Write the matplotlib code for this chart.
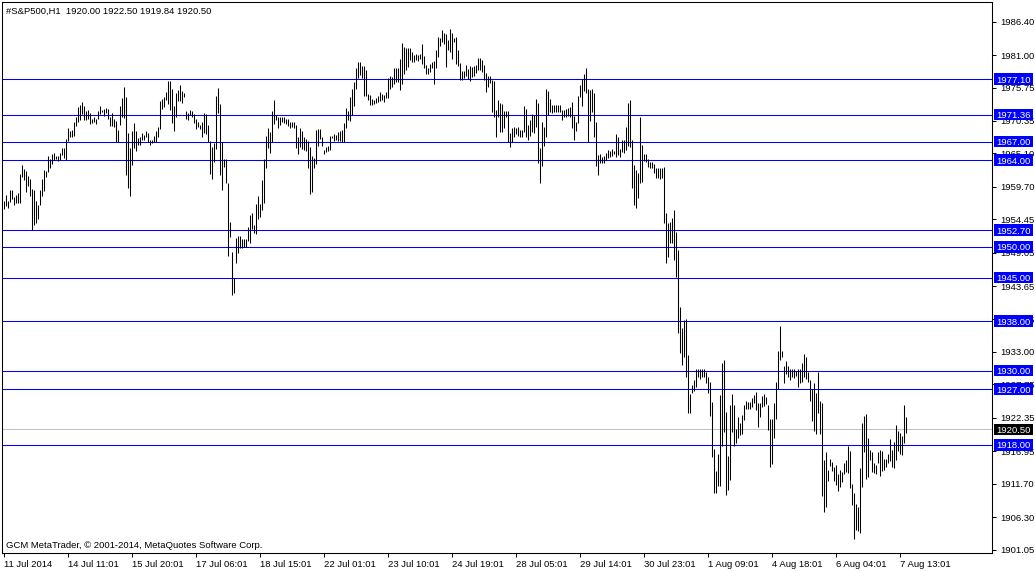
import matplotlib
matplotlib.use('Agg')
import matplotlib.pyplot as plt
from matplotlib.patches import Rectangle
from matplotlib.transforms import blended_transform_factory

# ---------------- data (H1 bars: high / low) ----------------
highs = [
    1957.46, 1958.32, 1957.46, 1959.19, 1959.19, 1958.00, 1958.32, 1958.76, 1961.77, 1963.23,
    1962.53, 1962.26, 1961.45, 1961.02, 1959.35, 1959.19, 1957.46, 1956.76, 1959.19, 1961.02,
    1962.42, 1962.31, 1964.68, 1964.14, 1965.01, 1965.11, 1964.68, 1964.68, 1965.22, 1965.92,
    1965.92, 1967.38, 1969.16, 1968.78, 1968.89, 1970.18, 1970.93, 1972.66, 1972.93, 1973.41,
    1972.77, 1972.01, 1972.12, 1971.58, 1970.61, 1971.04, 1970.72, 1971.90, 1972.77, 1972.12,
    1972.23, 1972.44, 1972.23, 1971.04, 1971.58, 1970.72, 1970.29, 1968.89, 1972.77, 1974.06,
    1975.89, 1974.28, 1968.46, 1966.03, 1968.78, 1969.96, 1968.78, 1967.54, 1967.81, 1968.46,
    1968.02, 1968.72, 1968.46, 1967.27, 1967.27, 1967.92, 1968.72, 1969.43, 1973.63, 1973.90,
    1974.28, 1975.03, 1976.86, 1976.86, 1975.57, 1972.77, 1974.81, 1975.35, 1976.16, 1975.14,
    1974.92, 1971.90, 1971.58, 1972.12, 1971.90, 1971.47, 1970.72, 1970.18, 1969.75, 1970.18,
    1971.58, 1971.47, 1969.75, 1967.16, 1966.19, 1966.73, 1974.38, 1975.68, 1973.09, 1966.95,
    1964.14, 1964.14, 1960.26, 1954.07,
    1949.21, 1944.90, 1951.37, 1951.80, 1951.80, 1951.26, 1951.26, 1951.26, 1953.20, 1955.14,
    1955.41, 1953.53, 1956.92, 1958.27, 1956.92, 1960.80, 1964.20, 1967.97, 1969.15, 1968.51,
    1971.96, 1973.68, 1971.31, 1970.99, 1970.99, 1970.99, 1970.99, 1970.66, 1970.66, 1970.12,
    1970.23, 1970.12, 1969.69, 1967.75, 1969.15, 1968.72, 1967.75, 1967.43, 1967.11, 1966.14,
    1964.63, 1964.30, 1968.83, 1969.05, 1969.05, 1967.75, 1965.71, 1966.14, 1966.35, 1967.86,
    1967.97, 1968.18, 1968.08, 1968.51, 1968.72, 1968.83, 1970.02, 1972.39, 1971.96, 1974.22,
    1975.51, 1976.59, 1978.96, 1979.93, 1979.93, 1979.18, 1979.18, 1978.64, 1974.76, 1974.54,
    1973.90, 1973.79, 1974.11, 1974.44, 1975.08, 1974.76, 1974.54, 1975.08, 1977.35, 1977.56,
    1977.51, 1978.96, 1978.85, 1978.85, 1980.36, 1982.90, 1982.30, 1982.09, 1982.09, 1982.09,
    1981.55, 1981.01, 1981.12, 1981.01, 1981.12, 1982.79, 1980.90, 1979.39, 1978.96, 1979.50,
    1979.82, 1980.04, 1981.76, 1983.92, 1983.81, 1985.11, 1984.57, 1984.35, 1983.49, 1985.21,
    1984.57, 1983.81, 1983.92,
    1981.82, 1979.72, 1978.37, 1978.37, 1979.44, 1978.69, 1979.23, 1979.12, 1979.23, 1979.39,
    1980.52, 1980.52, 1980.20, 1979.39, 1978.05, 1977.61, 1977.61, 1976.97, 1976.85, 1972.12,
    1973.73, 1973.30, 1973.09, 1972.01, 1972.01, 1972.01, 1968.45, 1969.16, 1969.42, 1969.16,
    1969.42, 1968.88, 1968.88, 1972.76, 1972.23, 1969.69, 1970.50, 1971.47, 1971.31, 1973.85,
    1973.20, 1965.93, 1970.18, 1969.42, 1975.46, 1975.24, 1973.85, 1972.93, 1972.93, 1972.93,
    1972.93, 1972.93, 1972.12, 1972.12, 1972.23, 1972.39, 1972.65, 1973.41, 1971.15, 1970.23,
    1974.38, 1976.16, 1977.08, 1977.94, 1978.86, 1975.46, 1975.35, 1975.46, 1974.82, 1970.23,
    1964.84, 1965.00, 1964.57, 1964.68, 1965.11, 1965.65, 1965.54, 1965.76, 1965.54, 1968.24,
    1967.70, 1965.76, 1967.27, 1967.27, 1969.42, 1973.30, 1973.73, 1967.27, 1963.23, 1962.42,
    1961.88, 1970.94, 1966.46, 1965.00, 1965.00, 1964.25, 1963.76, 1963.76, 1963.39, 1962.69,
    1962.69, 1962.69, 1962.69, 1962.85, 1955.51, 1953.90, 1954.06, 1954.61, 1955.95,
    1952.39, 1949.48, 1940.32, 1936.82, 1938.17, 1938.27, 1932.51, 1926.20, 1927.66, 1928.47,
    1930.19, 1930.19, 1930.19, 1930.19, 1930.19, 1929.81, 1928.90, 1928.14, 1924.91, 1917.26,
    1913.81, 1916.50, 1926.04, 1931.16, 1931.70, 1923.29, 1916.18, 1924.42, 1926.20, 1924.42,
    1920.49, 1922.43, 1921.46, 1922.75, 1924.42, 1925.13, 1924.91, 1924.91, 1925.50, 1926.04,
    1926.53, 1924.80, 1924.80, 1925.88, 1926.20, 1925.77, 1924.42, 1922.11, 1922.11, 1924.69,
    1928.20, 1933.21, 1937.20, 1933.21, 1930.73, 1931.59, 1930.73, 1930.19, 1930.30, 1930.19,
    1929.97, 1930.30, 1930.19, 1931.27, 1932.67, 1932.24, 1929.81, 1928.47, 1926.96, 1927.93,
    1926.42, 1929.81, 1925.13, 1924.80, 1915.53, 1916.88, 1913.92, 1915.64, 1915.26, 1914.35,
    1914.72, 1913.27, 1913.92, 1913.59, 1914.99, 1915.53, 1917.80, 1917.04, 1911.65, 1910.25,
    1908.42, 1907.99, 1914.24, 1921.46, 1922.65, 1922.97, 1919.04, 1917.15, 1916.88, 1914.99,
    1914.72, 1916.88, 1917.15, 1917.04, 1915.64, 1915.64, 1916.50, 1918.87, 1917.15, 1918.50,
    1921.19, 1920.28, 1919.95, 1919.41, 1924.42, 1922.50,
]

lows = [
    1956.17, 1956.60, 1956.33, 1957.25, 1957.68, 1956.82, 1957.14, 1957.14, 1957.14, 1961.34,
    1960.80, 1958.92, 1959.83, 1958.22, 1952.67, 1953.53, 1953.91, 1954.55, 1956.76, 1958.22,
    1959.08, 1961.34, 1962.10, 1962.80, 1963.34, 1964.04, 1964.25, 1963.82, 1964.04, 1964.79,
    1964.36, 1964.04, 1967.16, 1967.70, 1967.70, 1967.92, 1969.53, 1970.18, 1970.50, 1971.47,
    1970.50, 1970.50, 1970.61, 1969.80, 1969.96, 1970.18, 1969.86, 1970.61, 1971.47, 1971.80,
    1971.15, 1971.58, 1970.61, 1969.53, 1969.53, 1969.32, 1966.95, 1966.95, 1969.64, 1971.04,
    1970.83, 1961.61, 1959.56, 1958.27, 1963.28, 1966.03, 1965.44, 1966.52, 1966.52, 1967.27,
    1967.27, 1967.70, 1966.95, 1966.52, 1966.73, 1966.95, 1966.95, 1967.70, 1969.10, 1972.34,
    1972.66, 1973.74, 1973.09, 1972.12, 1969.96, 1968.78, 1971.04, 1973.63, 1973.63, 1973.20,
    1974.28, 1970.61, 1970.50, 1971.37, 1971.04, 1969.96, 1969.10, 1969.32, 1968.99, 1967.81,
    1968.35, 1968.24, 1966.95, 1961.72, 1961.02, 1963.77, 1965.87, 1971.58, 1961.67, 1959.19,
    1962.85, 1960.26, 1948.57, 1951.64,
    1942.21, 1942.48, 1947.33, 1949.05, 1949.86, 1949.86, 1949.97, 1949.97, 1950.94, 1950.67,
    1952.88, 1952.18, 1952.12, 1954.44, 1954.87, 1955.90, 1957.14, 1962.80, 1966.03, 1965.11,
    1967.00, 1969.80, 1970.50, 1969.26, 1969.69, 1970.23, 1969.96, 1969.85, 1969.59, 1969.15,
    1969.42, 1969.15, 1966.03, 1965.06, 1966.14, 1965.81, 1965.60, 1965.49, 1962.80, 1958.59,
    1958.91, 1962.69, 1963.33, 1966.35, 1967.43, 1966.35, 1964.95, 1965.27, 1965.49, 1965.60,
    1967.54, 1967.11, 1967.21, 1967.11, 1967.11, 1967.00, 1967.00, 1969.15, 1970.45, 1970.34,
    1971.31, 1972.82, 1975.51, 1977.24, 1977.78, 1977.35, 1974.44, 1974.33, 1973.73, 1972.93,
    1972.93, 1973.03, 1973.25, 1973.36, 1973.57, 1973.79, 1973.36, 1974.11, 1974.11, 1975.51,
    1975.84, 1976.38, 1976.70, 1976.70, 1975.41, 1976.27, 1977.88, 1978.53, 1979.07, 1980.15,
    1979.93, 1979.82, 1980.15, 1980.04, 1980.36, 1979.61, 1978.85, 1977.99, 1977.99, 1978.21,
    1978.96, 1976.38, 1978.85, 1980.69, 1982.52, 1983.17, 1982.84, 1979.07, 1981.87, 1981.55,
    1980.36, 1983.17, 1979.61,
    1979.23, 1976.97, 1976.97, 1977.24, 1977.61, 1977.08, 1976.85, 1977.50, 1977.61, 1978.05,
    1978.58, 1978.58, 1978.26, 1976.97, 1975.08, 1975.88, 1976.53, 1971.84, 1971.03, 1967.70,
    1971.03, 1968.61, 1968.61, 1969.16, 1971.03, 1966.99, 1966.09, 1966.99, 1967.80, 1968.24,
    1967.91, 1967.80, 1967.70, 1968.61, 1967.70, 1967.27, 1967.91, 1968.61, 1968.45, 1969.42,
    1963.50, 1960.37, 1963.06, 1966.30, 1967.70, 1971.26, 1971.79, 1971.58, 1971.84, 1971.84,
    1971.84, 1971.84, 1970.50, 1971.03, 1970.94, 1971.15, 1970.94, 1969.16, 1967.27, 1968.77,
    1969.97, 1974.17, 1972.76, 1975.24, 1974.82, 1966.99, 1970.39, 1971.84, 1967.80, 1963.06,
    1961.61, 1963.60, 1963.60, 1963.60, 1964.03, 1964.31, 1964.57, 1964.68, 1965.00, 1964.57,
    1964.84, 1964.47, 1965.38, 1965.21, 1965.65, 1966.30, 1966.19, 1959.46, 1956.76, 1956.22,
    1957.84, 1960.37, 1960.53, 1963.92, 1963.76, 1962.96, 1962.69, 1962.69, 1961.88, 1961.08,
    1961.08, 1961.00, 1961.08, 1953.90, 1947.33, 1948.40, 1950.67, 1950.67, 1947.87,
    1945.12, 1936.07, 1932.89, 1930.89, 1932.13, 1928.90, 1923.19, 1923.19, 1926.31, 1926.74,
    1927.39, 1928.90, 1928.57, 1928.90, 1929.00, 1927.93, 1926.42, 1922.65, 1915.96, 1910.14,
    1910.14, 1911.33, 1911.33, 1917.80, 1920.06, 1909.93, 1910.68, 1912.30, 1920.11, 1917.80,
    1918.34, 1919.04, 1919.52, 1919.74, 1922.00, 1923.83, 1923.83, 1923.83, 1924.05, 1924.69,
    1923.62, 1920.92, 1922.43, 1924.16, 1924.26, 1924.59, 1920.38, 1914.35, 1914.89, 1919.04,
    1922.11, 1926.96, 1931.70, 1932.13, 1927.93, 1929.44, 1928.90, 1928.47, 1928.90, 1928.74,
    1929.11, 1927.39, 1927.93, 1928.20, 1928.90, 1928.57, 1928.20, 1925.13, 1921.89, 1920.28,
    1919.74, 1923.08, 1919.74, 1909.71, 1907.18, 1907.88, 1912.19, 1914.56, 1913.81, 1912.19,
    1911.49, 1910.57, 1911.11, 1912.03, 1913.27, 1913.65, 1913.49, 1910.95, 1908.26, 1902.71,
    1904.22, 1904.11, 1903.68, 1911.22, 1916.88, 1912.41, 1912.73, 1915.53, 1913.65, 1913.38,
    1913.27, 1914.99, 1912.95, 1913.81, 1913.92, 1914.45, 1915.10, 1915.42, 1914.35, 1914.18,
    1915.53, 1917.04, 1916.50, 1916.34, 1918.23, 1919.84,
]

level_prices = [1977.10, 1971.36, 1967.00, 1964.00, 1952.70, 1950.00,
                1945.00, 1938.00, 1930.00, 1927.00, 1918.00]
last_price = 1920.50

ytick_values = [1986.40, 1981.00, 1975.75, 1970.35, 1965.10, 1959.70, 1954.45,
                1949.05, 1943.65, 1938.25, 1933.00, 1927.75, 1922.35, 1916.95,
                1911.70, 1906.30, 1901.05]

xtick_labels = ['11 Jul 2014', '14 Jul 11:01', '15 Jul 20:01', '17 Jul 06:01',
                '18 Jul 15:01', '22 Jul 01:01', '23 Jul 10:01', '24 Jul 19:01',
                '28 Jul 05:01', '29 Jul 14:01', '30 Jul 23:01', '1 Aug 09:01',
                '4 Aug 18:01', '6 Aug 04:01', '7 Aug 13:01']
bars_per_label = 32

title_text = '#S&P500,H1  1920.00 1922.50 1919.84 1920.50'
footer_text = 'GCM MetaTrader, \u00a9 2001-2014, MetaQuotes Software Corp.'

# ---------------- figure ----------------
W, H = 1035, 571
FONT = 'Liberation Sans'
plt.rcParams['font.family'] = [FONT, 'DejaVu Sans']
PX = 72 / 100  # one pixel in points

fig = plt.figure(figsize=(W / 100, H / 100), dpi=100)
fig.patch.set_facecolor('white')
ax_l, ax_r, ax_t, ax_b = 2, 992, 2, 553
ax = fig.add_axes([ax_l / W, (H - ax_b) / H, (ax_r - ax_l) / W, (ax_b - ax_t) / H])
ax.set_facecolor('white')

idx = list(range(len(highs)))
ax.vlines(idx, lows, highs, colors='black', linewidth=PX * 1.05, snap=True, zorder=3)

for p in level_prices:
    ax.axhline(p, color='#0000FF', linewidth=PX * 1.05, snap=True, zorder=2)
ax.axhline(last_price, color='#C0C0C0', linewidth=PX * 1.05, snap=True, zorder=1)

ax.set_xlim(-0.75, 494.25)
ax.set_ylim(1900.50, 1989.58)

for s in ax.spines.values():
    s.set_color('black')
    s.set_linewidth(PX * 1.05)
    s.set_snap(True)

# y axis on right
ax.yaxis.tick_right()
ax.set_yticks(ytick_values)
ax.set_yticklabels(['%.2f' % v for v in ytick_values])
ax.tick_params(axis='y', direction='out', length=3, width=PX, pad=3,
               labelsize=6.8, colors='black')

# x axis
xt = [k * bars_per_label for k in range(len(xtick_labels))]
ax.set_xticks(xt)
ax.set_xticklabels(xtick_labels)
ax.tick_params(axis='x', direction='out', length=3, width=PX, pad=2,
               labelsize=6.8, colors='black')
for lbl in ax.get_xticklabels():
    lbl.set_horizontalalignment('left')

# price labels on the right axis
tr = blended_transform_factory(fig.transFigure, ax.transData)
px_per_unit = (ax_b - ax_t) / (1989.58 - 1900.50)
box_h = 11.5 / px_per_unit
bx0, bx1 = 994, 1033


def price_tag(p, face):
    ax.add_patch(Rectangle((bx0 / W, p - box_h / 2), (bx1 - bx0) / W, box_h,
                           transform=tr, facecolor=face, edgecolor='none',
                           clip_on=False, zorder=5))
    ax.text((bx0 + bx1) / 2 / W, p, '%.2f' % p, transform=tr, color='white',
            ha='center', va='center_baseline', fontsize=6.8, clip_on=False, zorder=6)


for p in level_prices:
    price_tag(p, '#0000FF')
price_tag(last_price, 'black')

fig.text(6 / W, 1 - 11 / H, title_text, ha='left', va='center', fontsize=6.8, color='black')
fig.text(6 / W, 1 - 545 / H, footer_text, ha='left', va='center', fontsize=6.8, color='black')

fig.savefig('out.png', dpi=100, facecolor='white')
